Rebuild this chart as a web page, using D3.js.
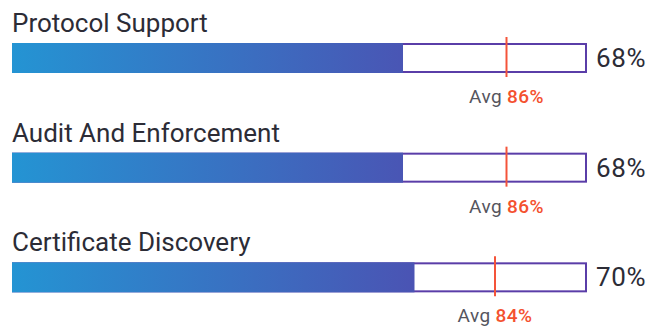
<!DOCTYPE html>
<html>
<head>
<meta charset="utf-8">
<script src="https://cdn.jsdelivr.net/npm/d3@7"></script>
<style>
  html, body { margin: 0; padding: 0; background: #ffffff; }
  svg { display: block; }
</style>
</head>
<body>
<svg id="chart" width="666" height="327"></svg>
<script>
// Score per category against the peer average
const categories = ["Protocol Support", "Audit And Enforcement", "Certificate Discovery"];
const scores = [68, 68, 70];
const averages = [86, 86, 84];
const domainMax = [0, 100];

const svg = d3.select("#chart");

const x = d3.scaleLinear().domain(domainMax).range([12, 587]);
const row = d3.scaleBand().domain(categories).range([0, 329]).paddingInner(0);

const barH = 30;
const barOffset = 43;   // bar top relative to row start

const defs = svg.append("defs");
const grad = defs.append("linearGradient")
  .attr("id", "barGrad")
  .attr("gradientUnits", "userSpaceOnUse")
  .attr("x1", x(0)).attr("x2", x(100)).attr("y1", 0).attr("y2", 0);
grad.append("stop").attr("offset", "0%").attr("stop-color", "#2494d3");
grad.append("stop").attr("offset", "100%").attr("stop-color", "#5b38a6");

const g = svg.selectAll("g.row")
  .data(categories.map((c, i) => ({ name: c, score: scores[i], avg: averages[i] })))
  .join("g")
  .attr("class", "row")
  .attr("transform", d => `translate(0,${row(d.name)})`);

// Category title
g.append("text")
  .attr("x", 12)
  .attr("y", barOffset - 11)
  .attr("font-family", "Roboto, 'Noto Sans', sans-serif")
  .attr("font-size", 26)
  .attr("fill", "#2c2c36")
  .text(d => d.name);

// Track outline
g.append("rect")
  .attr("x", x(0) + 1)
  .attr("y", barOffset + 1)
  .attr("width", x(100) - x(0) - 2)
  .attr("height", barH - 2)
  .attr("fill", "#ffffff")
  .attr("stroke", "#5a3da8")
  .attr("stroke-width", 2);

// Score fill
g.append("rect")
  .attr("x", x(0))
  .attr("y", barOffset)
  .attr("width", d => x(d.score) - x(0))
  .attr("height", barH)
  .attr("fill", "url(#barGrad)");

// Average marker
g.append("line")
  .attr("x1", d => x(d.avg)).attr("x2", d => x(d.avg))
  .attr("y1", barOffset - 6)
  .attr("y2", barOffset + barH + 4)
  .attr("stroke", "#f4543a")
  .attr("stroke-width", 2);

// Score value
g.append("text")
  .attr("x", x(100) + 9)
  .attr("y", barOffset + barH / 2 + 9)
  .attr("font-family", "Roboto, 'Noto Sans', sans-serif")
  .attr("font-size", 26)
  .attr("letter-spacing", 0.6)
  .attr("fill", "#2c2c36")
  .text(d => d.score + "%");

// Average label
const avgText = g.append("text")
  .attr("x", d => x(d.avg))
  .attr("y", barOffset + barH + 30)
  .attr("text-anchor", "middle")
  .attr("font-family", "Roboto, 'Noto Sans', sans-serif")
  .attr("font-size", 19)
  .attr("letter-spacing", 0.4);
avgText.append("tspan").attr("fill", "#55555e").text("Avg ");
avgText.append("tspan").attr("fill", "#f4512f").attr("font-weight", 500).text(d => d.avg + "%");
</script>
</body>
</html>
